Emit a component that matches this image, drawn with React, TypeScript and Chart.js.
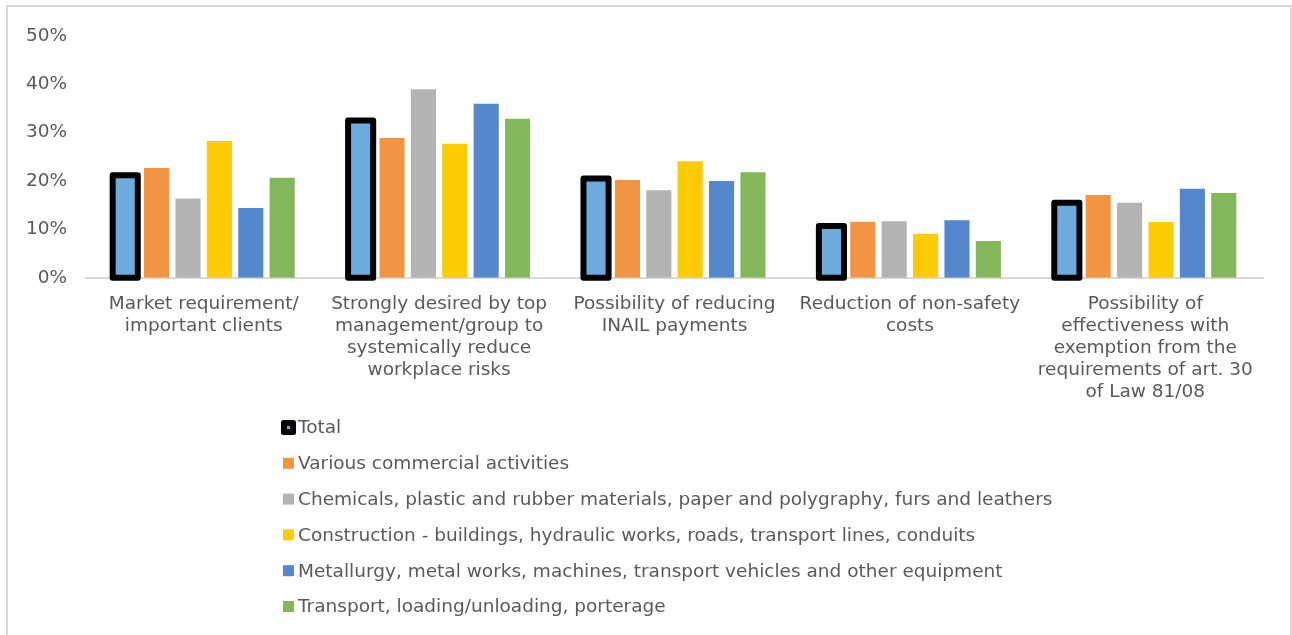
import { useEffect, useRef } from "react";
import { Chart, registerables } from "chart.js";

Chart.register(...registerables);

// Category labels, pre-wrapped into lines
const categories: string[][] = [
  ["Market requirement/", "important clients"],
  ["Strongly desired by top", "management/group to", "systemically reduce", "workplace risks"],
  ["Possibility of reducing", "INAIL payments"],
  ["Reduction of non-safety", "costs"],
  ["Possibility of", "effectiveness with", "exemption from the", "requirements of art. 30", "of Law 81/08"],
];

const seriesNames = [
  "Total",
  "Various commercial activities",
  "Chemicals, plastic and rubber materials, paper and polygraphy, furs and leathers",
  "Construction - buildings, hydraulic works, roads, transport lines, conduits",
  "Metallurgy, metal works, machines, transport vehicles and other equipment",
  "Transport, loading/unloading, porterage",
];

// Share of companies (%) per motivation
const total = [21.2, 32.5, 20.5, 10.7, 15.5];
const commercial = [22.7, 28.9, 20.2, 11.6, 17.1];
const chemicals = [16.4, 39.0, 18.1, 11.7, 15.5];
const construction = [28.3, 27.7, 24.1, 9.1, 11.5];
const metallurgy = [14.4, 36.0, 20.0, 11.9, 18.4];
const transport = [20.7, 32.9, 21.8, 7.6, 17.5];

const yTicks = [0, 10, 20, 30, 40, 50];

const seriesValues = [total, commercial, chemicals, construction, metallurgy, transport];
const seriesColors = ["#6DABDC", "#F29441", "#B3B3B3", "#FFCB04", "#5587CF", "#83B75A"];

const TEXT = "#595959";
const FONT = '"DejaVu Sans", Verdana, sans-serif';
const FONT_SIZE = 18.5;

// White background and thin outer frame
const framePlugin = {
  id: "frame",
  beforeDraw(chart: any) {
    const { ctx, width, height } = chart;
    ctx.save();
    ctx.fillStyle = "#ffffff";
    ctx.fillRect(0, 0, width, height);
    ctx.strokeStyle = "#D9D9D9";
    ctx.lineWidth = 2;
    ctx.strokeRect(7, 6, width - 8, height + 10);
    ctx.restore();
  },
};

// Heavy black outline on the "Total" bars, centred on the bar edge
const totalOutlinePlugin = {
  id: "totalOutline",
  afterDatasetsDraw(chart: any) {
    const meta = chart.getDatasetMeta(0);
    const { ctx } = chart;
    ctx.save();
    ctx.strokeStyle = "#000000";
    ctx.lineWidth = 6;
    ctx.lineJoin = "round";
    meta.data.forEach((bar: any) => {
      const { x, y, base, width } = bar.getProps(["x", "y", "base", "width"], true);
      ctx.strokeRect(x - width / 2, y, width, base - y);
    });
    ctx.restore();
  },
};

// Legend stacked one entry per row below the axis labels
const stackedLegendPlugin = {
  id: "stackedLegend",
  afterDraw(chart: any) {
    const { ctx } = chart;
    const left = 281;
    const top = 427.5;
    const step = 35.8;
    ctx.save();
    ctx.font = `${FONT_SIZE}px ${FONT}`;
    ctx.textBaseline = "middle";
    ctx.textAlign = "left";
    chart.data.datasets.forEach((ds: any, i: number) => {
      const cy = top + i * step;
      if (i === 0) {
        ctx.fillStyle = "#000000";
        ctx.beginPath();
        ctx.roundRect(left, cy - 7.5, 15, 15, 2.5);
        ctx.fill();
        ctx.fillStyle = ds.backgroundColor;
        ctx.fillRect(left + 6, cy - 1.5, 3, 3);
      } else {
        ctx.fillStyle = ds.backgroundColor;
        ctx.fillRect(left + 2, cy - 5.5, 11, 11);
      }
      ctx.fillStyle = TEXT;
      ctx.fillText(ds.label, left + 17, cy + 1);
    });
    ctx.restore();
  },
};

export default function App() {
  const canvasRef = useRef<HTMLCanvasElement | null>(null);

  useEffect(() => {
    document.body.style.margin = "0";
    const canvas = canvasRef.current;
    if (!canvas) return;

    const chart = new Chart(canvas, {
      type: "bar",
      data: {
        labels: categories as any,
        datasets: seriesValues.map((values, i) => ({
          label: seriesNames[i],
          data: values,
          backgroundColor: seriesColors[i],
          borderWidth: 0,
          categoryPercentage: 0.8,
          barPercentage: 0.8,
        })),
      },
      options: {
        responsive: false,
        animation: false,
        devicePixelRatio: 1,
        layout: { padding: { top: 36, right: 29, bottom: 0, left: 0 } },
        plugins: {
          legend: { display: false },
          tooltip: { enabled: false },
        },
        scales: {
          x: {
            z: 1,
            grid: { display: false, drawTicks: false },
            border: { display: true, color: "#D9D9D9", width: 2 },
            ticks: {
              autoSkip: false,
              maxRotation: 0,
              minRotation: 0,
              padding: 15,
              color: TEXT,
              font: { family: FONT, size: FONT_SIZE, lineHeight: 22 / FONT_SIZE },
            },
            afterFit: (scale: any) => {
              scale.height = 357.3;
            },
          },
          y: {
            min: 0,
            max: 50,
            grid: { display: false, drawTicks: false },
            border: { display: false },
            afterBuildTicks: (scale: any) => {
              scale.ticks = yTicks.map((v) => ({ value: v }));
            },
            ticks: {
              padding: 19,
              color: TEXT,
              font: { family: FONT, size: FONT_SIZE },
              callback: (v: any) => `${v}%`,
            },
            afterFit: (scale: any) => {
              scale.width = 86;
            },
          },
        },
      },
      plugins: [framePlugin, totalOutlinePlugin, stackedLegendPlugin],
    });

    return () => chart.destroy();
  }, []);

  return (
    <div style={{ width: 1292, height: 635 }}>
      <canvas ref={canvasRef} width={1292} height={635} style={{ display: "block" }} />
    </div>
  );
}
